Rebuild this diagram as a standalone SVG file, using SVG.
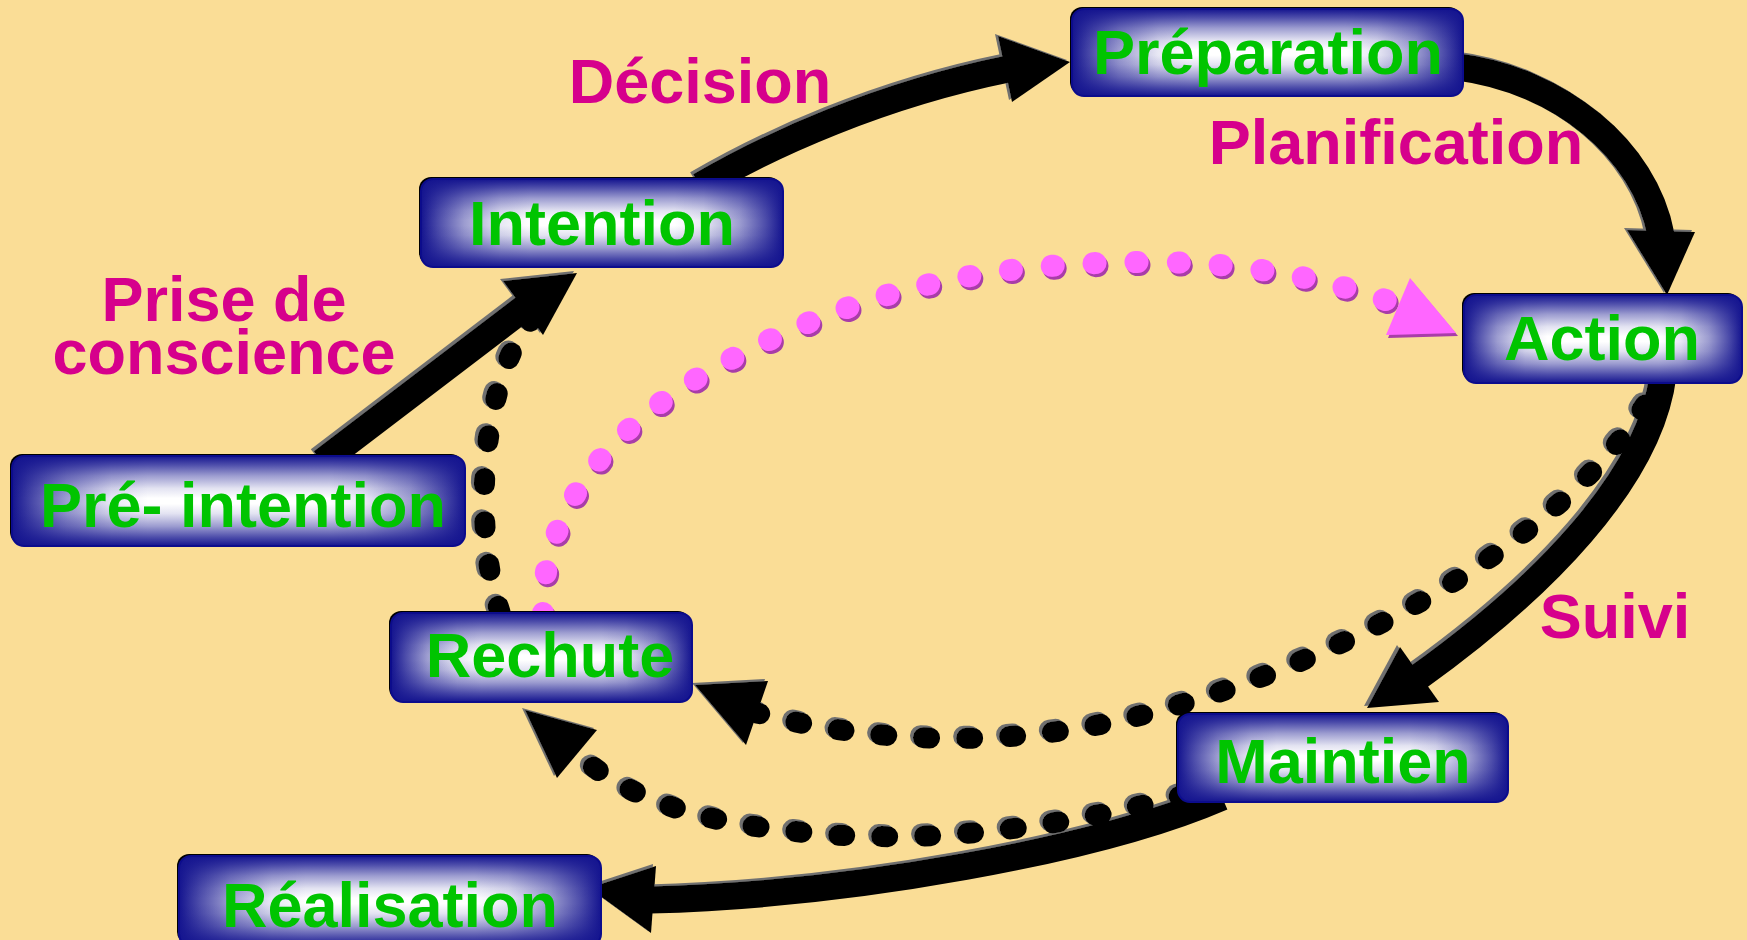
<svg xmlns="http://www.w3.org/2000/svg" width="1747" height="940" viewBox="0 0 1747 940">
<defs>
<style>
.bg{fill:#FADD96}
.shaft{fill:none;stroke:#000;stroke-width:27;stroke-linecap:butt}
.head{fill:#000}
.dots{fill:none;stroke:#000;stroke-width:21;stroke-linecap:round;stroke-dasharray:6 37}
.pdots{fill:none;stroke:#FF66FF;stroke-width:22;stroke-linecap:round;stroke-dasharray:2 40}
.phead{fill:#FF66FF}
.boxsh{fill:#000}
.boxbase{fill:#fff}
.boxh{fill:url(#gh)}
.boxv{fill:url(#gv)}
.boxline{fill:none;stroke:#0c0c8c;stroke-width:2}
.nt{font-family:"Liberation Sans",Arial,sans-serif;font-weight:bold;font-size:63px;fill:#00C400;text-anchor:middle}
.lb{font-family:"Liberation Sans",Arial,sans-serif;font-weight:bold;font-size:63px;fill:#D6008C;text-anchor:middle}
</style>
<linearGradient id="gh" x1="0" y1="0" x2="1" y2="0">
<stop offset="0" stop-color="#14148F" stop-opacity="1"/>
<stop offset="0.05" stop-color="#14148F" stop-opacity="0.75"/>
<stop offset="0.12" stop-color="#14148F" stop-opacity="0.42"/>
<stop offset="0.22" stop-color="#14148F" stop-opacity="0.1"/>
<stop offset="0.3" stop-color="#14148F" stop-opacity="0"/>
<stop offset="0.7" stop-color="#14148F" stop-opacity="0"/>
<stop offset="0.78" stop-color="#14148F" stop-opacity="0.1"/>
<stop offset="0.88" stop-color="#14148F" stop-opacity="0.42"/>
<stop offset="0.95" stop-color="#14148F" stop-opacity="0.75"/>
<stop offset="1" stop-color="#14148F" stop-opacity="1"/>
</linearGradient>
<linearGradient id="gv" x1="0" y1="0" x2="0" y2="1">
<stop offset="0" stop-color="#14148F" stop-opacity="1"/>
<stop offset="0.1" stop-color="#14148F" stop-opacity="0.75"/>
<stop offset="0.22" stop-color="#14148F" stop-opacity="0.42"/>
<stop offset="0.36" stop-color="#14148F" stop-opacity="0.12"/>
<stop offset="0.47" stop-color="#14148F" stop-opacity="0"/>
<stop offset="0.53" stop-color="#14148F" stop-opacity="0"/>
<stop offset="0.64" stop-color="#14148F" stop-opacity="0.12"/>
<stop offset="0.78" stop-color="#14148F" stop-opacity="0.42"/>
<stop offset="0.9" stop-color="#14148F" stop-opacity="0.75"/>
<stop offset="1" stop-color="#14148F" stop-opacity="1"/>
</linearGradient>
<filter id="grayShadow" filterUnits="userSpaceOnUse" x="0" y="0" width="1747" height="940">
<feOffset in="SourceAlpha" dx="-3" dy="-2" result="o"/>
<feFlood flood-color="#707070"/>
<feComposite in2="o" operator="in" result="g"/>
<feMerge><feMergeNode in="g"/><feMergeNode in="SourceGraphic"/></feMerge>
</filter>
<filter id="pinkShadow" filterUnits="userSpaceOnUse" x="0" y="0" width="1747" height="940">
<feOffset in="SourceAlpha" dx="2" dy="3" result="o"/>
<feFlood flood-color="#A83CA8"/>
<feComposite in2="o" operator="in" result="g"/>
<feMerge><feMergeNode in="g"/><feMergeNode in="SourceGraphic"/></feMerge>
</filter>
</defs>

<rect class="bg" x="0" y="0" width="1747" height="940"/>

<g id="connectors">
 <g id="pink-connectors" filter="url(#pinkShadow)">
  <g id="edge-rechute-action">
   <path class="pdots" d="M543,615 C540,520 600,430 720,365 S960,262 1150,262 C1250,262 1330,280 1400,305"/>
   <polygon class="phead" points="1410,278 1456,333 1386,335"/>
  </g>
 </g>
 <g id="black-connectors" filter="url(#grayShadow)">
  <g id="edge-action-rechute">
   <path class="dots" d="M1645,405 C1560,540 1350,660 1150,713 C1000,753 860,740 757,713"/>
   <polygon class="head" points="695,685 768,681 746,745"/>
  </g>
  <g id="edge-maintien-rechute">
   <path class="dots" d="M1185,795 C1050,830 920,845 800,832 C700,822 630,800 577,754"/>
   <polygon class="head" points="525,710 597,730 557,778"/>
  </g>
  <g id="edge-rechute-intention">
   <path class="dots" d="M500,612 C476,540 478,420 515,345 L545,298"/>
  </g>
  <g id="edge-preintention-intention">
   <path class="shaft" d="M322,462 L528,305"/>
   <polygon class="head" points="577,273 503,281 543,335"/>
  </g>
  <g id="edge-intention-preparation">
   <path class="shaft" d="M700,186 C770,145 880,95 1008,69"/>
   <polygon class="head" points="1070,62 998,36 1012,102"/>
  </g>
  <g id="edge-preparation-action">
   <path class="shaft" d="M1458,67 C1560,80 1645,150 1661,235"/>
   <polygon class="head" points="1667,295 1627,230 1695,232"/>
  </g>
  <g id="edge-action-maintien">
   <path class="shaft" d="M1663,375 C1650,480 1540,590 1417,678"/>
   <polygon class="head" points="1367,708 1400,647 1439,702"/>
  </g>
  <g id="edge-maintien-realisation">
   <path class="shaft" d="M1222,797 C1100,850 850,895 650,900"/>
   <polygon class="head" points="589,888 656,866 651,933"/>
  </g>
 </g>
</g>

<g id="node-preparation">
 <rect class="boxsh" x="1070" y="7" width="391" height="87" rx="12"/>
 <rect class="boxbase" x="1072" y="9" width="391" height="87" rx="12"/>
 <rect class="boxh" x="1072" y="9" width="391" height="87" rx="12"/>
 <rect class="boxv" x="1072" y="9" width="391" height="87" rx="12"/>
 <rect class="boxline" x="1072" y="9" width="391" height="87" rx="12"/>
 <text class="nt" x="1268" y="74">Préparation</text>
</g>
<g id="node-intention">
 <rect class="boxsh" x="419" y="177" width="362" height="88" rx="12"/>
 <rect class="boxbase" x="421" y="179" width="362" height="88" rx="12"/>
 <rect class="boxh" x="421" y="179" width="362" height="88" rx="12"/>
 <rect class="boxv" x="421" y="179" width="362" height="88" rx="12"/>
 <rect class="boxline" x="421" y="179" width="362" height="88" rx="12"/>
 <text class="nt" x="602" y="245">Intention</text>
</g>
<g id="node-action">
 <rect class="boxsh" x="1462" y="293" width="278" height="88" rx="12"/>
 <rect class="boxbase" x="1464" y="295" width="278" height="88" rx="12"/>
 <rect class="boxh" x="1464" y="295" width="278" height="88" rx="12"/>
 <rect class="boxv" x="1464" y="295" width="278" height="88" rx="12"/>
 <rect class="boxline" x="1464" y="295" width="278" height="88" rx="12"/>
 <text class="nt" x="1602" y="360">Action</text>
</g>
<g id="node-pre-intention">
 <rect class="boxsh" x="10" y="454" width="453" height="90" rx="12"/>
 <rect class="boxbase" x="12" y="456" width="453" height="90" rx="12"/>
 <rect class="boxh" x="12" y="456" width="453" height="90" rx="12"/>
 <rect class="boxv" x="12" y="456" width="453" height="90" rx="12"/>
 <rect class="boxline" x="12" y="456" width="453" height="90" rx="12"/>
 <text class="nt" x="243" y="527">Pré- intention</text>
</g>
<g id="node-rechute">
 <rect class="boxsh" x="389" y="611" width="301" height="89" rx="12"/>
 <rect class="boxbase" x="391" y="613" width="301" height="89" rx="12"/>
 <rect class="boxh" x="391" y="613" width="301" height="89" rx="12"/>
 <rect class="boxv" x="391" y="613" width="301" height="89" rx="12"/>
 <rect class="boxline" x="391" y="613" width="301" height="89" rx="12"/>
 <text class="nt" x="550" y="677">Rechute</text>
</g>
<g id="node-maintien">
 <rect class="boxsh" x="1176" y="712" width="330" height="88" rx="12"/>
 <rect class="boxbase" x="1178" y="714" width="330" height="88" rx="12"/>
 <rect class="boxh" x="1178" y="714" width="330" height="88" rx="12"/>
 <rect class="boxv" x="1178" y="714" width="330" height="88" rx="12"/>
 <rect class="boxline" x="1178" y="714" width="330" height="88" rx="12"/>
 <text class="nt" x="1343" y="783">Maintien</text>
</g>
<g id="node-realisation">
 <rect class="boxsh" x="177" y="854" width="422" height="90" rx="12"/>
 <rect class="boxbase" x="179" y="856" width="422" height="90" rx="12"/>
 <rect class="boxh" x="179" y="856" width="422" height="90" rx="12"/>
 <rect class="boxv" x="179" y="856" width="422" height="90" rx="12"/>
 <rect class="boxline" x="179" y="856" width="422" height="90" rx="12"/>
 <text class="nt" x="390" y="927">Réalisation</text>
</g>

<g id="labels">
 <text class="lb" x="700" y="103">Décision</text>
 <text class="lb" x="1396" y="164">Planification</text>
 <text class="lb" x="224" y="321">Prise de</text>
 <text class="lb" x="224" y="374">conscience</text>
 <text class="lb" x="1615" y="638">Suivi</text>
</g>
</svg>
